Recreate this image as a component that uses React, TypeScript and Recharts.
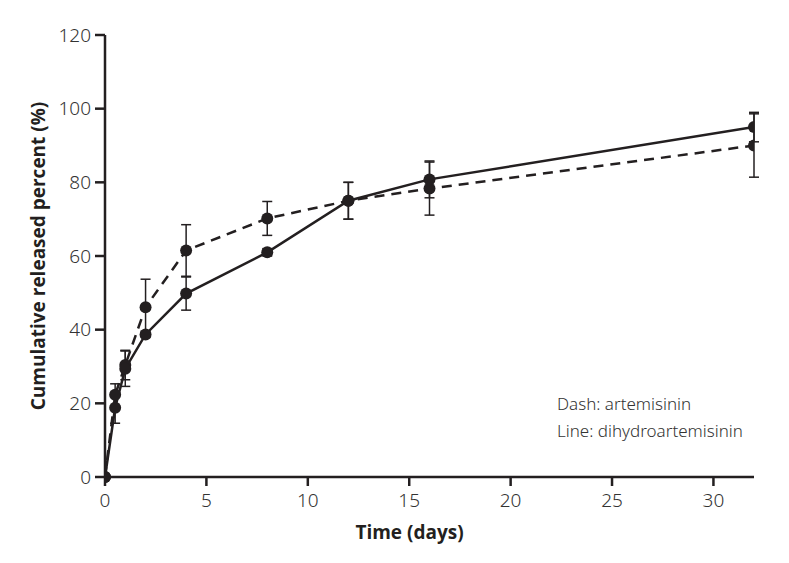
import { LineChart, Line, XAxis, YAxis, ErrorBar } from 'recharts';

const days = [0, 0.5, 1, 2, 4, 8, 12, 16, 32];
const artemisinin = [0, 22.3, 30.4, 46.1, 61.5, 70.2, 75, 78.3, 90];
const artemisininErr = [0, 3, 4, 7.6, 7, 4.6, 5, 7.2, 8.6];
const dihydroartemisinin = [0, 18.8, 29.4, 38.7, 49.8, 61, 75, 80.8, 95];
const dihydroartemisininErr = [0, 4.2, 4.8, 0.8, 4.5, 1, 5, 5, 4];
const xTicks = [0, 5, 10, 15, 20, 25, 30];
const yTicks = [0, 20, 40, 60, 80, 100, 120];

const INK = '#231f20';

const data = days.map((t, i) => ({
  t,
  art: artemisinin[i],
  artErr: artemisininErr[i],
  dha: dihydroartemisinin[i],
  dhaErr: dihydroartemisininErr[i],
}));

const tickStyle = { fontFamily: '"Noto Sans", sans-serif', fontSize: 19, fill: '#333', fontWeight: 300 };
const titleStyle = { fontFamily: '"Open Sans", sans-serif', fontSize: 19, fontWeight: 700, fill: INK };

export default function App() {
  return (
    <div style={{ position: 'absolute', left: 0, top: 0, width: 789, height: 563, background: '#fff' }}>
      <LineChart width={789} height={563} data={data} margin={{ top: 35, right: 35, left: 0, bottom: 26 }}>
        <XAxis
          dataKey="t"
          type="number"
          domain={[0, 32]}
          ticks={xTicks}
          allowDataOverflow
          stroke={INK}
          strokeWidth={2.5}
          tickSize={9}
          tickMargin={8}
          tick={tickStyle}
          height={60}
          label={{ value: 'Time (days)', position: 'insideBottom', offset: -2, dx: -20, style: titleStyle }}
        />
        <YAxis
          type="number"
          domain={[0, 120]}
          ticks={yTicks}
          stroke={INK}
          strokeWidth={2.5}
          tickSize={10}
          tickMargin={4}
          tick={tickStyle}
          width={105}
          label={{ value: 'Cumulative released percent (%)', angle: -90, position: 'center', dx: -14, style: titleStyle }}
        />
        <Line
          dataKey="art"
          stroke={INK}
          strokeWidth={2.5}
          strokeDasharray="10 7"
          dot={{ r: 6, fill: INK, stroke: INK, strokeWidth: 0 }}
          isAnimationActive={false}
        >
          <ErrorBar dataKey="artErr" direction="y" width={5} stroke={INK} strokeWidth={1.5} />
        </Line>
        <Line
          dataKey="dha"
          stroke={INK}
          strokeWidth={2.5}
          dot={{ r: 6, fill: INK, stroke: INK, strokeWidth: 0 }}
          isAnimationActive={false}
        >
          <ErrorBar dataKey="dhaErr" direction="y" width={5} stroke={INK} strokeWidth={1.5} />
        </Line>
      </LineChart>
      <div
        style={{
          position: 'absolute',
          left: 557,
          top: 390,
          fontFamily: '"Noto Sans", sans-serif',
          fontSize: 17,
          fontWeight: 300,
          color: '#333',
          lineHeight: '27px',
          whiteSpace: 'nowrap',
        }}
      >
        <div>Dash: artemisinin</div>
        <div>Line: dihydroartemisinin</div>
      </div>
    </div>
  );
}
